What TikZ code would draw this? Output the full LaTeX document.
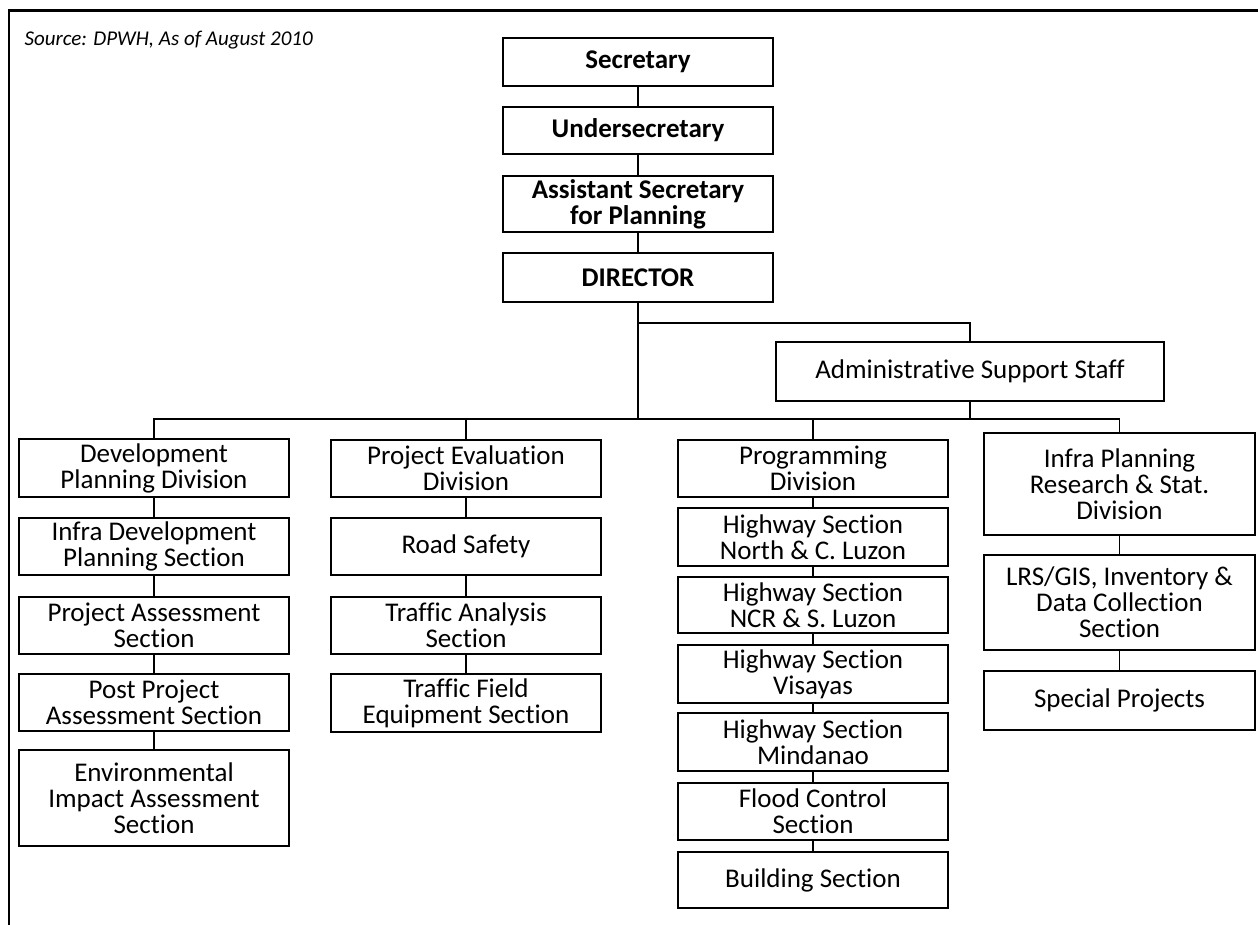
\documentclass[tikz,border=0pt]{standalone}
\usepackage{fontspec}
\setmainfont[Ligatures=NoCommon]{Carlito}
\begin{document}
\begin{tikzpicture}[x=1pt,y=-1pt,
  unit/.style={draw=black, line width=1.6pt, fill=white, inner sep=0pt, align=center,
    minimum width=270pt, font={\fontsize{27}{26}\selectfont}},
  head/.style={unit, font={\fontsize{27}{26}\selectfont\bfseries}},
  link/.style={line width=1.3pt, draw=black},
  frame/.style={line width=2.2pt, draw=black}]
\useasboundingbox (0,0) rectangle (1258,925);

% outer frame (top and left edges)
\draw[frame] (1258,10.5) -- (9,10.5) -- (9,925);

\node[anchor=base west, font={\fontsize{21}{24}\selectfont\itshape}] (src) at (21,46)
  {Source: DPWH, As of August 2010};

% top of the hierarchy
\node[head, minimum height=48pt] (sec)   at (638,62)    {Secretary};
\node[head, minimum height=47pt] (under) at (638,130.5) {Undersecretary};
\node[head, minimum height=56pt] (asst)  at (638,204)   {Assistant Secretary\\for Planning};
\node[head, minimum height=49pt] (dir)   at (638,277.5) {DIRECTOR};

\node[unit, minimum width=388pt, minimum height=59pt] (admin) at (970,371.5)
  {Administrative Support Staff};

% Development Planning Division
\node[unit, minimum height=58pt] (dev) at (154,468)   {Development\\Planning Division};
\node[unit, minimum height=57pt] (idp) at (154,546.5) {Infra Development\\Planning Section};
\node[unit, minimum height=57pt] (pas) at (154,625.5) {Project Assessment\\Section};
\node[unit, minimum height=57pt] (ppa) at (154,702.5) {Post Project\\Assessment Section};
\node[unit, minimum height=96pt] (eia) at (154,798)   {Environmental\\Impact Assessment\\Section};

% Project Evaluation Division
\node[unit, minimum height=57pt] (ped) at (466,468.5) {Project Evaluation\\Division};
\node[unit, minimum height=57pt] (rs)  at (466,546.5) {Road Safety};
\node[unit, minimum height=57pt] (tas) at (466,625.5) {Traffic Analysis\\Section};
\node[unit, minimum height=58pt] (tfe) at (466,703)   {Traffic Field\\Equipment Section};

% Programming Division
\node[unit, minimum height=57pt] (prog) at (813,468.5) {Programming\\Division};
\node[unit, minimum height=58pt] (hnl)  at (813,537)   {Highway Section\\North \& C. Luzon};
\node[unit, minimum height=56pt] (hsl)  at (813,605)   {Highway Section\\NCR \& S. Luzon};
\node[unit, minimum height=58pt] (hvi)  at (813,674)   {Highway Section\\Visayas};
\node[unit, minimum height=58pt] (hmi)  at (813,742)   {Highway Section\\Mindanao};
\node[unit, minimum height=57pt] (fcs)  at (813,811.5) {Flood Control\\Section};
\node[unit, minimum height=56pt] (bld)  at (813,880)   {Building Section};

% Infra Planning Research & Statistics Division
\node[unit, minimum width=271pt, minimum height=102pt] (ipr) at (1119.5,484)
  {Infra Planning\\Research \& Stat.\\Division};
\node[unit, minimum width=271pt, minimum height=95pt]  (lrs) at (1119.5,602.5)
  {LRS/GIS, Inventory \&\\Data Collection\\Section};
\node[unit, minimum width=271pt, minimum height=59pt]  (spp) at (1119.5,700.5)
  {Special Projects};

% reporting lines
\coordinate (branch) at (0,323);
\coordinate (bus) at (0,419);

\draw[link] (sec) -- (under);
\draw[link] (under) -- (asst);
\draw[link] (asst) -- (dir);
\draw[link] (dir.south) -- (dir.south |- bus);
\draw[link] (dir.south |- branch) -- (admin.north |- branch) -- (admin.north);
\draw[link] (admin.south) -- (admin.south |- bus);
\draw[link] (dev.north) -- (dev.north |- bus) -- (ipr.north |- bus) -- (ipr.north);
\draw[link] (ped.north) -- (ped.north |- bus);
\draw[link] (prog.north) -- (prog.north |- bus);

\draw[link] (dev) -- (idp);
\draw[link] (idp) -- (pas);
\draw[link] (pas) -- (ppa);
\draw[link] (ppa) -- (eia);

\draw[link] (ped) -- (rs);
\draw[link] (rs) -- (tas);
\draw[link] (tas) -- (tfe);

\draw[link] (prog) -- (hnl);
\draw[link] (hnl) -- (hsl);
\draw[link] (hsl) -- (hvi);
\draw[link] (hvi) -- (hmi);
\draw[link] (hmi) -- (fcs);
\draw[link] (fcs) -- (bld);

\draw[link] (ipr) -- (lrs);
\draw[link] (lrs) -- (spp);
\end{tikzpicture}
\end{document}
